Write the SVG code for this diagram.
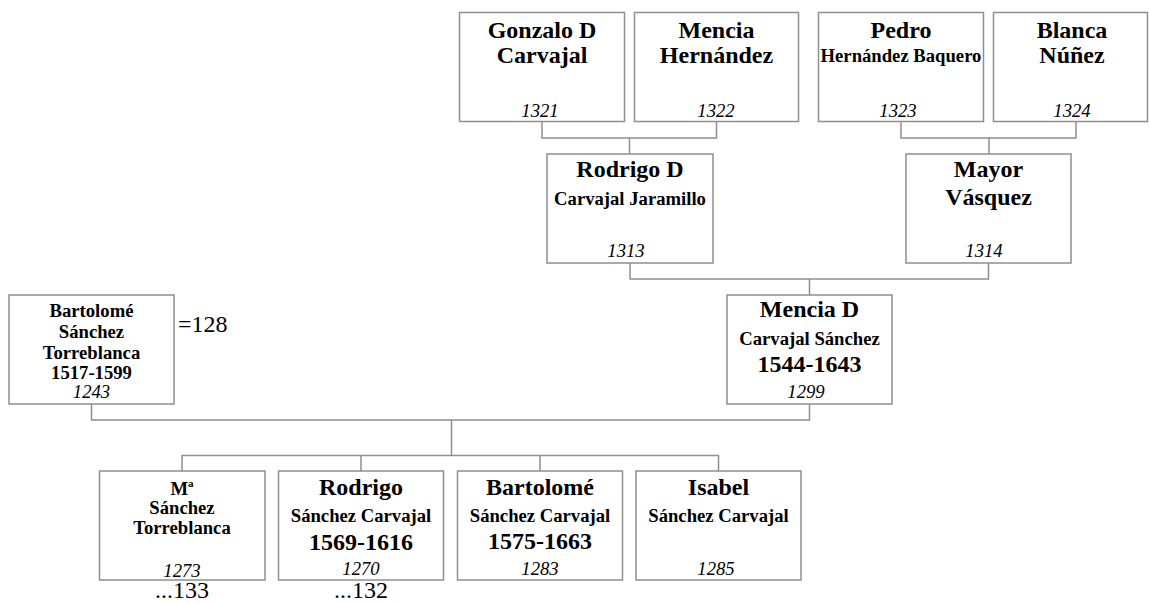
<svg xmlns="http://www.w3.org/2000/svg" width="1149" height="604" viewBox="0 0 1149 604">
<style>
.box{fill:#fff;stroke:#8f8f8f;stroke-width:1.5}
.con{fill:none;stroke:#8f8f8f;stroke-width:1.5}
text{font-family:"Liberation Serif","Times New Roman",serif;fill:#000;text-anchor:middle}
.n{font-weight:bold;font-size:24px}
.s{font-weight:bold;font-size:18.67px}
.i{font-style:italic;font-size:18.67px}
.r{font-size:24px}
</style>
<rect width="1149" height="604" fill="#fff"/>
<g id="connectors">
<path class="con" d="M542,122 V138 H716.5 V122 M629.5,138 V154"/>
<path class="con" d="M901,122 V138 H1076 V122 M989,138 V154"/>
<path class="con" d="M630,263 V279 H988.5 V263 M809.5,279 V295"/>
<path class="con" d="M91.5,404 V420 H809.5 V404 M451.5,420 V455.5"/>
<path class="con" d="M182,471 V455.5 H718.5 V471 M361,455.5 V471 M540,455.5 V471"/>
</g>
<g id="n1321">
<rect class="box" x="459.5" y="12.5" width="165" height="109"/>
<text class="n" x="542" y="38">Gonzalo D</text>
<text class="n" x="542" y="63">Carvajal</text>
<text class="i" x="540" y="117">1321</text>
</g>
<g id="n1322">
<rect class="box" x="634.5" y="12.5" width="164" height="109"/>
<text class="n" x="716.5" y="38">Mencia</text>
<text class="n" x="716.5" y="63">Hernández</text>
<text class="i" x="716" y="117">1322</text>
</g>
<g id="n1323">
<rect class="box" x="818.5" y="12.5" width="165" height="109"/>
<text class="n" x="901" y="38">Pedro</text>
<text class="s" x="901" y="62">Hernández Baquero</text>
<text class="i" x="898" y="117">1323</text>
</g>
<g id="n1324">
<rect class="box" x="993.5" y="12.5" width="154" height="109"/>
<text class="n" x="1072" y="38">Blanca</text>
<text class="n" x="1072" y="63">Núñez</text>
<text class="i" x="1072" y="117">1324</text>
</g>
<g id="n1313">
<rect class="box" x="547" y="154" width="166" height="109"/>
<text class="n" x="630" y="177">Rodrigo D</text>
<text class="s" x="630" y="205">Carvajal Jaramillo</text>
<text class="i" x="626" y="257">1313</text>
</g>
<g id="n1314">
<rect class="box" x="906" y="154" width="165" height="109"/>
<text class="n" x="988.5" y="177">Mayor</text>
<text class="n" x="988.5" y="205">Vásquez</text>
<text class="i" x="984" y="257">1314</text>
</g>
<g id="n1299">
<rect class="box" x="727" y="295" width="165" height="109"/>
<text class="n" x="809.5" y="317">Mencia D</text>
<text class="s" x="809.5" y="345">Carvajal Sánchez</text>
<text class="n" x="809.5" y="372">1544-1643</text>
<text class="i" x="806" y="398">1299</text>
</g>
<g id="n1243">
<rect class="box" x="9" y="295" width="165" height="109"/>
<text class="s" x="91.5" y="317">Bartolomé</text>
<text class="s" x="91.5" y="338">Sánchez</text>
<text class="s" x="91.5" y="359">Torreblanca</text>
<text class="s" x="91.5" y="379">1517-1599</text>
<text class="i" x="91.5" y="398">1243</text>
</g>
<text class="r" x="178" y="332" style="text-anchor:start">=128</text>
<g id="n1273">
<rect class="box" x="99.5" y="471" width="165.5" height="109"/>
<text class="s" x="182" y="495">Mª</text>
<text class="s" x="182" y="514">Sánchez</text>
<text class="s" x="182" y="534">Torreblanca</text>
<text class="i" x="182" y="577">1273</text>
</g>
<text class="r" x="182" y="598">...133</text>
<g id="n1270">
<rect class="box" x="278.5" y="471" width="165" height="109"/>
<text class="n" x="361" y="495">Rodrigo</text>
<text class="s" x="361" y="522">Sánchez Carvajal</text>
<text class="n" x="361" y="550">1569-1616</text>
<text class="i" x="361" y="575">1270</text>
</g>
<text class="r" x="361" y="598">...132</text>
<g id="n1283">
<rect class="box" x="457.5" y="471" width="165" height="109"/>
<text class="n" x="540" y="495">Bartolomé</text>
<text class="s" x="540" y="522">Sánchez Carvajal</text>
<text class="n" x="540" y="549">1575-1663</text>
<text class="i" x="540" y="575">1283</text>
</g>
<g id="n1285">
<rect class="box" x="636" y="471" width="165" height="109"/>
<text class="n" x="718.5" y="495">Isabel</text>
<text class="s" x="718.5" y="522">Sánchez Carvajal</text>
<text class="i" x="716" y="575">1285</text>
</g>
</svg>
